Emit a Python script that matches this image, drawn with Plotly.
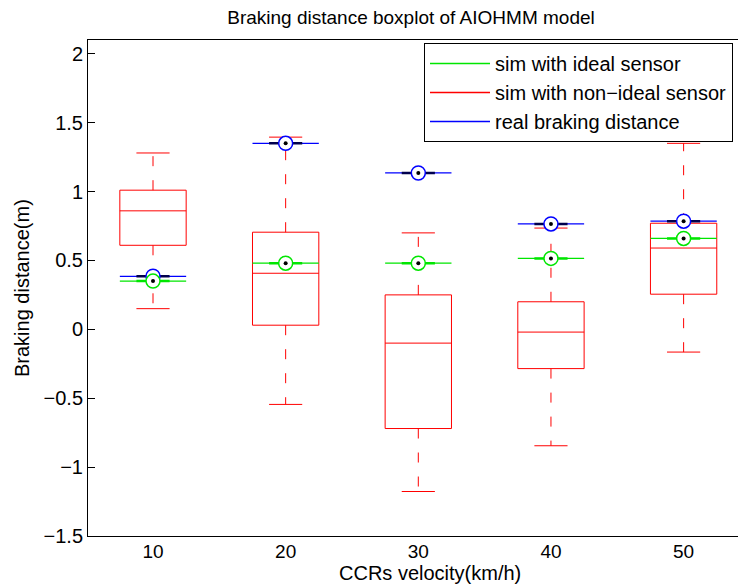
import plotly.graph_objects as go

categories = ["10", "20", "30", "40", "50"]
nonideal_upper = [1.28, 1.395, 0.70, 0.735, 1.35]
nonideal_q3 = [1.01, 0.705, 0.25, 0.20, 0.77]
nonideal_median = [0.86, 0.407, -0.10, -0.02, 0.59]
nonideal_q1 = [0.61, 0.03, -0.72, -0.285, 0.255]
nonideal_lower = [0.15, -0.545, -1.177, -0.845, -0.165]
ideal = [0.35, 0.48, 0.48, 0.515, 0.66]
real = [0.385, 1.35, 1.135, 0.765, 0.785]
ytick_vals = [-1.5, -1, -0.5, 0, 0.5, 1, 1.5, 2]
ytick_text = ["\u22121.5", "\u22121", "\u22120.5", "0", "0.5", "1", "1.5", "2"]

FONT = "Liberation Sans, Arial, Helvetica, sans-serif"
RED = "#ff0000"
GREEN = "#00e600"
BLUE = "#0000ff"
BW = 0.25   # half box width
CW = 0.125  # half cap width

pos = list(range(1, len(categories) + 1))

fig = go.Figure()

# red boxes, medians, caps (solid)
bx, by = [], []
for i, p in enumerate(pos):
    bx += [p - BW, p + BW, p + BW, p - BW, p - BW, None]
    by += [nonideal_q1[i], nonideal_q1[i], nonideal_q3[i], nonideal_q3[i], nonideal_q1[i], None]
    bx += [p - BW, p + BW, None]
    by += [nonideal_median[i], nonideal_median[i], None]
    bx += [p - CW, p + CW, None, p - CW, p + CW, None]
    by += [nonideal_upper[i], nonideal_upper[i], None, nonideal_lower[i], nonideal_lower[i], None]
fig.add_trace(go.Scatter(x=bx, y=by, mode="lines", line=dict(color=RED, width=1),
                         showlegend=False, hoverinfo="skip"))
# dashed whiskers
wx, wy = [], []
for i, p in enumerate(pos):
    wx += [p, p, None, p, p, None]
    wy += [nonideal_q3[i], nonideal_upper[i], None, nonideal_q1[i], nonideal_lower[i], None]
fig.add_trace(go.Scatter(x=wx, y=wy, mode="lines", line=dict(color=RED, width=1, dash="10px,14px"),
                         showlegend=False, hoverinfo="skip"))


def compact(vals, color, thick_color):
    lx, ly, tx, ty = [], [], [], []
    for i, p in enumerate(pos):
        lx += [p - BW, p + BW, None]
        ly += [vals[i], vals[i], None]
        tx += [p - CW, p + CW, None]
        ty += [vals[i], vals[i], None]
    fig.add_trace(go.Scatter(x=lx, y=ly, mode="lines", line=dict(color=color, width=1.3),
                             showlegend=False, hoverinfo="skip"))
    fig.add_trace(go.Scatter(x=tx, y=ty, mode="lines", line=dict(color=thick_color, width=2.5),
                             showlegend=False, hoverinfo="skip"))
    fig.add_trace(go.Scatter(x=pos, y=vals, mode="markers",
                             marker=dict(symbol="circle", size=14, color="white",
                                         line=dict(color=color, width=1.5)),
                             showlegend=False, hoverinfo="skip"))
    fig.add_trace(go.Scatter(x=pos, y=vals, mode="markers",
                             marker=dict(symbol="circle", size=4, color="black"),
                             showlegend=False, hoverinfo="skip"))


compact(real, BLUE, "#00004d")
compact(ideal, GREEN, GREEN)

# legend entries
for name, col in [("sim with ideal sensor", GREEN), ("sim with non\u2212ideal sensor", RED),
                  ("real braking distance", BLUE)]:
    fig.add_trace(go.Scatter(x=[None], y=[None], mode="lines", line=dict(color=col, width=1.5),
                             name=name, showlegend=True))

fig.update_layout(
    width=738, height=586,
    margin=dict(l=88, r=0, t=40, b=50),
    paper_bgcolor="white", plot_bgcolor="white",
    font=dict(family=FONT, size=19, color="black"),
    title=dict(text="Braking distance boxplot of AIOHMM model", x=411 / 738, xanchor="center",
               xref="container", y=1 - 17 / 586, yanchor="middle",
               font=dict(size=19, family=FONT, color="black")),
    showlegend=True,
    legend=dict(x=(424 - 88) / 650, y=(536 - 43) / 496, xanchor="left", yanchor="top",
                bgcolor="white", bordercolor="black", borderwidth=1,
                font=dict(size=20, family=FONT), itemwidth=60, tracegroupgap=0),
    xaxis=dict(range=[0.51, 5.41], tickvals=pos, ticktext=categories, ticks="",
               ticklabelstandoff=-2,
               showgrid=False, zeroline=False, showline=True, linecolor="black", linewidth=1,
               mirror=True, tickfont=dict(size=19, family=FONT)),
    yaxis=dict(range=[-1.5, 2.1], tickvals=ytick_vals, ticktext=ytick_text, ticks="inside",
               ticklen=7, tickcolor="black", showgrid=False, zeroline=False, showline=True,
               linecolor="black", linewidth=1, mirror=False, tickfont=dict(size=20, family=FONT)),
    annotations=[
        dict(text="CCRs velocity(km/h)", xref="paper", yref="paper", x=(430 - 88) / 650,
             y=-(586 - 536) / 496, xanchor="center", yanchor="bottom", showarrow=False,
             font=dict(size=20, family=FONT)),
        dict(text="Braking distance(m)", xref="paper", yref="paper", x=-(88 - 22) / 650,
             y=0.5, xanchor="center", yanchor="middle", showarrow=False, textangle=-90,
             font=dict(size=20, family=FONT)),
    ],
)

fig.write_html("out.html")
